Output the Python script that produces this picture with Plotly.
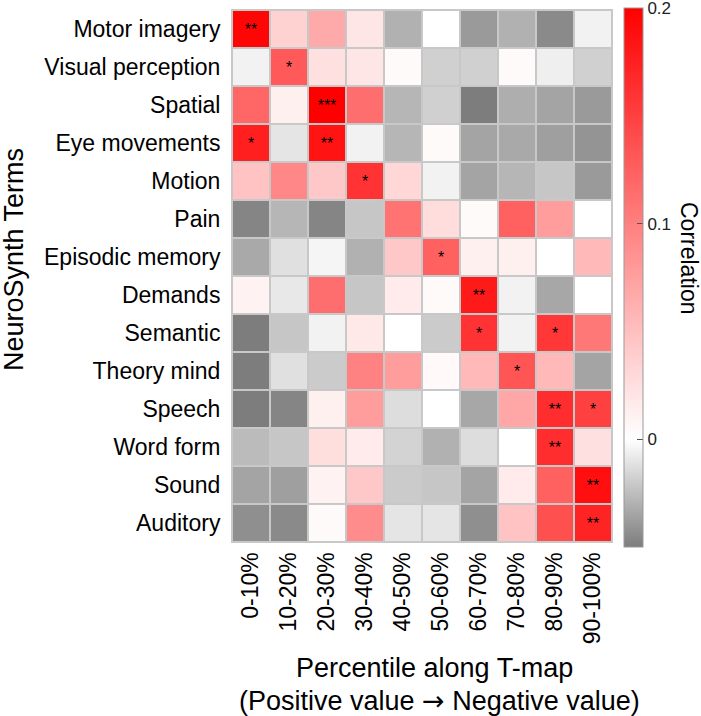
import plotly.graph_objects as go

terms = ["Motor imagery", "Visual perception", "Spatial", "Eye movements", "Motion",
         "Pain", "Episodic memory", "Demands", "Semantic", "Theory mind",
         "Speech", "Word form", "Sound", "Auditory"]
percentiles = ["0-10%", "10-20%", "20-30%", "30-40%", "40-50%",
               "50-60%", "60-70%", "70-80%", "80-90%", "90-100%"]

corr = [
    [0.195, 0.035, 0.067, 0.020, -0.030, 0.000, -0.039, -0.030, -0.045, -0.005],
    [-0.005, 0.130, 0.024, 0.020, 0.004, -0.018, -0.018, 0.004, -0.006, -0.018],
    [0.120, 0.012, 0.200, 0.114, -0.028, -0.018, -0.050, -0.031, -0.035, -0.039],
    [0.176, -0.010, 0.185, -0.005, -0.028, 0.004, -0.035, -0.033, -0.037, -0.041],
    [0.047, 0.094, 0.043, 0.160, 0.031, -0.005, -0.035, -0.028, -0.022, -0.039],
    [-0.047, -0.028, -0.047, -0.022, 0.110, 0.027, 0.004, 0.125, 0.078, 0.000],
    [-0.033, -0.012, -0.004, -0.030, 0.043, 0.125, 0.012, 0.012, 0.000, 0.055],
    [0.010, -0.009, 0.114, -0.022, 0.016, 0.004, 0.180, -0.005, -0.034, 0.000],
    [-0.050, -0.022, -0.005, 0.018, 0.000, -0.020, 0.160, -0.005, 0.157, 0.106],
    [-0.050, -0.012, -0.020, 0.098, 0.078, 0.005, 0.055, 0.133, 0.055, -0.035],
    [-0.050, -0.047, 0.012, 0.078, -0.013, 0.000, -0.034, 0.070, 0.165, 0.150],
    [-0.026, -0.022, 0.026, 0.016, -0.017, -0.030, -0.013, 0.000, 0.165, 0.024],
    [-0.035, -0.037, 0.010, 0.043, -0.020, -0.022, -0.035, 0.016, 0.125, 0.188],
    [-0.043, -0.045, 0.004, 0.090, -0.010, -0.010, -0.043, 0.047, 0.137, 0.172],
]

stars = [
    ["**", "", "", "", "", "", "", "", "", ""],
    ["", "*", "", "", "", "", "", "", "", ""],
    ["", "", "***", "", "", "", "", "", "", ""],
    ["*", "", "**", "", "", "", "", "", "", ""],
    ["", "", "", "*", "", "", "", "", "", ""],
    ["", "", "", "", "", "", "", "", "", ""],
    ["", "", "", "", "", "*", "", "", "", ""],
    ["", "", "", "", "", "", "**", "", "", ""],
    ["", "", "", "", "", "", "*", "", "*", ""],
    ["", "", "", "", "", "", "", "*", "", ""],
    ["", "", "", "", "", "", "", "", "**", "*"],
    ["", "", "", "", "", "", "", "", "**", ""],
    ["", "", "", "", "", "", "", "", "", "**"],
    ["", "", "", "", "", "", "", "", "", "**"],
]

colorbar_ticks = [0, 0.1, 0.2]
colorbar_ticktext = ["0", "0.1", "0.2"]
zmin, zmax = -0.05, 0.2

FONT = "Arial, Liberation Sans, sans-serif"
L, R, T, B = 232, 612, 10, 542
PW, PH = R - L, B - T


def px(xp):
    return (xp - L) / PW


def py(yp):
    return (B - yp) / PH


fig = go.Figure(go.Heatmap(
    z=corr, x=percentiles, y=terms,
    text=stars, texttemplate="%{text}",
    textfont=dict(family=FONT, size=16, color="black"),
    zmin=zmin, zmax=zmax,
    colorscale=[[0, "rgb(125,125,125)"], [0.2, "rgb(255,255,255)"], [1, "rgb(255,0,0)"]],
    xgap=2, ygap=2,
    colorbar=dict(
        tickvals=colorbar_ticks, ticktext=colorbar_ticktext,
        ticks="inside", ticklen=6, tickcolor="#555",
        ticklabeloverflow="allow",
        thickness=19, lenmode="fraction", len=539 / PH,
        x=px(624), xanchor="left", xpad=0,
        y=py(8), yanchor="top", ypad=0,
        outlinewidth=1, outlinecolor="#999",
        tickfont=dict(family=FONT, size=17, color="#222"),
    ),
    hoverongaps=False,
))

fig.update_layout(
    width=701, height=716,
    margin=dict(l=L, r=701 - R, t=T, b=716 - B, autoexpand=False),
    paper_bgcolor="white", plot_bgcolor="#c8c8c8",
    font=dict(family=FONT, color="black"),
    xaxis=dict(tickangle=-90, tickfont=dict(size=23, family=FONT, color="black"),
               showgrid=False, zeroline=False, ticks="", showline=True,
               linecolor="#c8c8c8", linewidth=1, mirror=True),
    yaxis=dict(autorange="reversed", tickfont=dict(size=23, family=FONT, color="black"),
               showgrid=False, zeroline=False, ticks="", ticklabelstandoff=6,
               showline=True, linecolor="#c8c8c8", linewidth=1, mirror=True),
    annotations=[
        dict(text="NeuroSynth Terms", textangle=-90,
             xref="paper", yref="paper", x=px(14), y=py(260),
             xanchor="center", yanchor="middle",
             showarrow=False, font=dict(size=27, family=FONT, color="black")),
        dict(text="Percentile along T-map",
             xref="paper", yref="paper", x=px(434), y=py(668),
             xanchor="center", yanchor="middle",
             showarrow=False, font=dict(size=27, family=FONT, color="black")),
        dict(text="(Positive value <span style='font-family:DejaVu Sans'>→</span> Negative value)",
             xref="paper", yref="paper", x=px(439), y=py(700),
             xanchor="center", yanchor="middle",
             showarrow=False, font=dict(size=27, family=FONT, color="black")),
        dict(text="Correlation", textangle=90,
             xref="paper", yref="paper", x=px(689), y=py(258),
             xanchor="center", yanchor="middle",
             showarrow=False, font=dict(size=23, family=FONT, color="black")),
    ],
)

fig.write_html("out.html", config={"displayModeBar": False},
               post_script="document.body.style.margin='0';document.body.style.padding='0';")
